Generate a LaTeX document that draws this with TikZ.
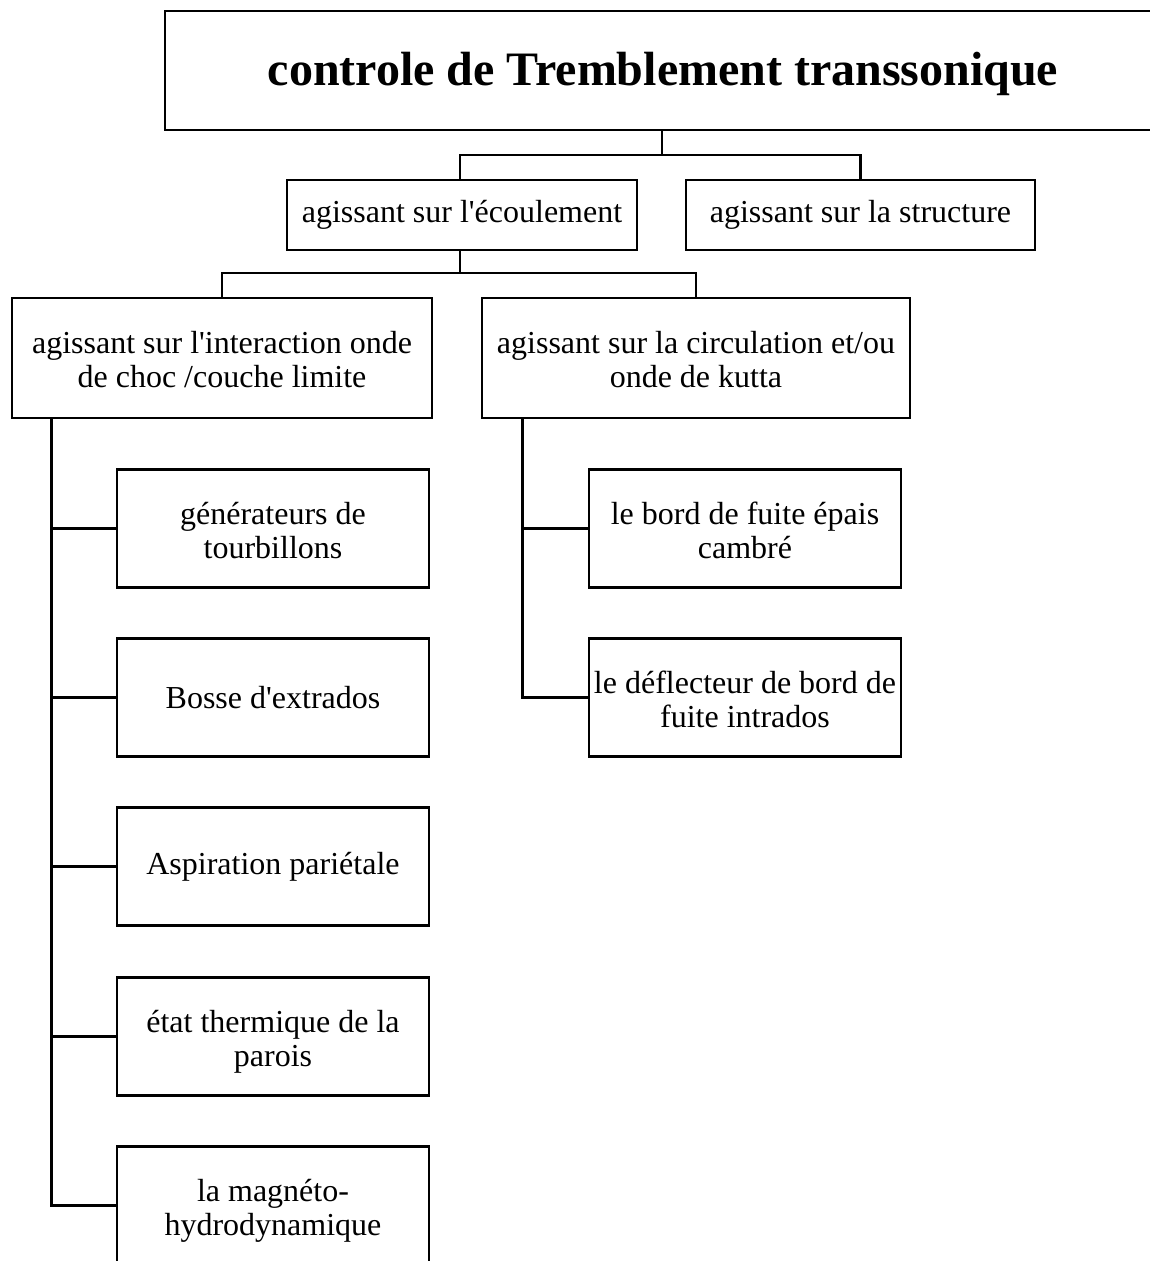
\documentclass[tikz,border=0pt]{standalone}
\usepackage{fontspec}
\newfontfamily\tnr{Liberation Serif}
\newcommand\hst{\rule{0pt}{32pt}}
\newcommand\dst{\rule[-7pt]{0pt}{7pt}}
\begin{document}
\begin{tikzpicture}[x=1pt,y=-1pt,
  box/.style={draw,line width=2.8pt,align=center,inner sep=0pt,
    font=\tnr\fontsize{32}{34}\selectfont},
  lvl/.style={box,minimum height=70pt},
  mid/.style={box,minimum height=120pt},
  leaf/.style={box,minimum width=312pt,minimum height=118pt},
  conn/.style={line width=2.8pt}]
\useasboundingbox (0,0) rectangle (1150,1261);
\clip (0,0) rectangle (1150,1261);
\node[box,minimum width=996pt,minimum height=119pt,text height=40pt,text depth=10pt,
  font=\tnr\bfseries\fontsize{48}{52}\selectfont] (top) at (663,70.5) {controle de Tremblement transsonique};
\node[lvl,minimum width=350pt] (ec) at (462,215) {agissant sur l'écoulement};
\node[lvl,minimum width=349pt] (st) at (860.5,215) {agissant sur la structure};
\node[mid,minimum width=420pt] (inter) at (222,358) {\hst agissant sur l'interaction onde\\de choc /couche limite\dst};
\node[mid,minimum width=428pt] (circ) at (696,358) {\hst agissant sur la circulation et/ou\\onde de kutta\dst};
\node[leaf] (g1) at (273,528.5) {\hst générateurs de\\tourbillons\dst};
\node[leaf] (g2) at (273,697.5) {Bosse d'extrados};
\node[leaf] (g3) at (273,866.5) {Aspiration pariétale};
\node[leaf] (g4) at (273,1036.5) {\hst état thermique de la\\parois\dst};
\node[leaf] (g5) at (273,1205.5) {\hst la magnéto-\\hydrodynamique\dst};
\node[leaf] (d1) at (745,528.5) {\hst le bord de fuite épais\\cambré\dst};
\node[leaf] (d2) at (745,697.5) {\hst le déflecteur de bord de\\fuite intrados\dst};
\coordinate (j1) at (662,155);
\coordinate (j2) at (460,273);
\draw[conn] (top.south -| j1) -- (j1);
\draw[conn] (ec.north -| j2) |- (j1) -| (st.north);
\draw[conn] (ec.south -| j2) -- (j2);
\draw[conn] (inter.north) |- (j2) -| (circ.north);
\coordinate (tl) at ([xshift=41pt]inter.south west);
\coordinate (tr) at ([xshift=42pt]circ.south west);
\draw[conn] (tl) |- (g5.west);
\foreach \n in {g1,g2,g3,g4} \draw[conn] (\n.west) -- (\n.west -| tl);
\draw[conn] (tr) |- (d2.west);
\draw[conn] (d1.west) -- (d1.west -| tr);
\end{tikzpicture}
\end{document}
